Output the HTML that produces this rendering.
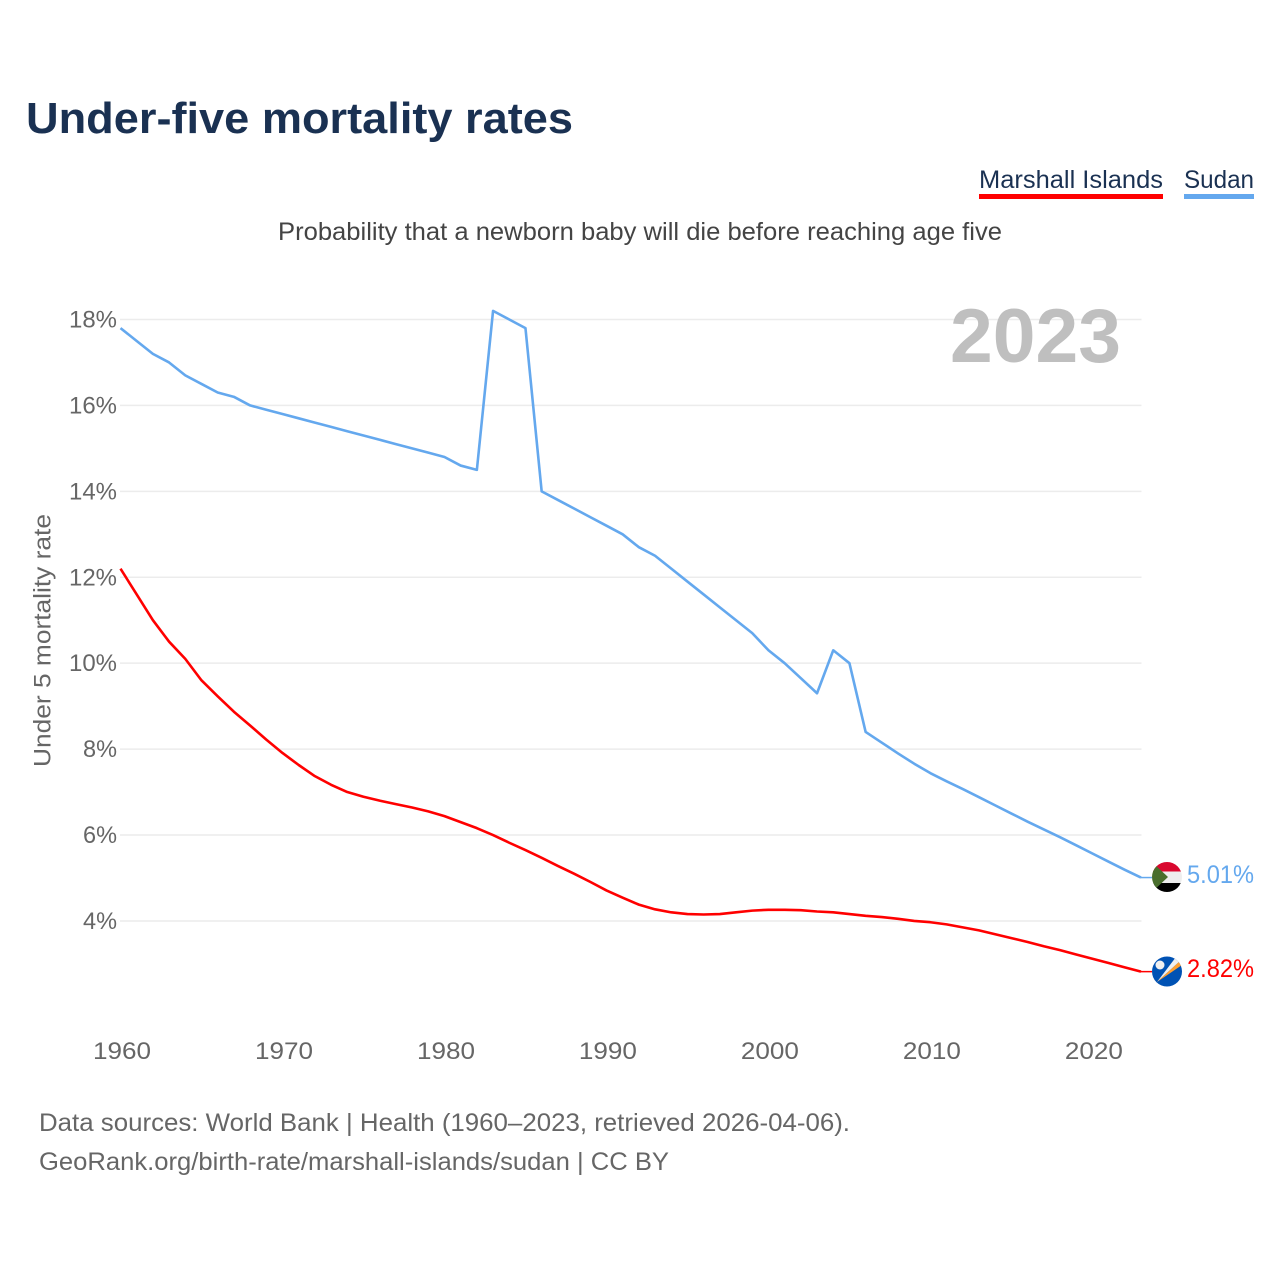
<!DOCTYPE html>
<html lang="en">
<head>
<meta charset="utf-8">
<title>Under-five mortality rates</title>
<style>
html,body{margin:0;padding:0;background:#fff;}
svg{display:block;font-family:"Liberation Sans",sans-serif;}
</style>
</head>
<body>
<svg id="chart" width="1280" height="1280" viewBox="0 0 1280 1280" xmlns="http://www.w3.org/2000/svg">
  <defs>
    <clipPath id="flag-clip-sudan"><circle cx="1167" cy="877" r="15"></circle></clipPath>
    <clipPath id="flag-clip-marshall"><circle cx="1167" cy="971.5" r="15"></circle></clipPath>
  </defs>
  <rect width="1280" height="1280" fill="#fff"></rect>
  <text x="26" y="133" font-size="44" font-weight="700" fill="#1a3152" textLength="547" lengthAdjust="spacingAndGlyphs">Under-five mortality rates</text>

  <g>
    <text x="979" y="188" font-size="25" fill="#1a3152" textLength="184" lengthAdjust="spacingAndGlyphs">Marshall Islands</text>
    <rect x="979" y="194" width="184" height="5" fill="#ff0000"></rect>
  </g>
  <g>
    <text x="1184" y="188" font-size="25" fill="#1a3152" textLength="70" lengthAdjust="spacingAndGlyphs">Sudan</text>
    <rect x="1184" y="194" width="70" height="5" fill="#64a8ee"></rect>
  </g>

  <text x="278" y="240" font-size="25" fill="#444" textLength="724" lengthAdjust="spacingAndGlyphs">Probability that a newborn baby will die before reaching age five</text>

  <g id="grid"></g>
  <g id="y-ticks"></g>
  <g id="x-ticks"></g>

  <text x="950" y="362" font-size="76" font-weight="700" fill="#bfbfbf" textLength="171" lengthAdjust="spacingAndGlyphs">2023</text>

  <text transform="translate(50.5,767) rotate(-90)" font-size="24" fill="#666" textLength="253" lengthAdjust="spacingAndGlyphs">Under 5 mortality rate</text>

  <g id="series"></g>

  <g clip-path="url(#flag-clip-sudan)">
    <rect x="1152" y="862" width="30" height="9.5" fill="#d9082f"></rect>
    <rect x="1152" y="871.5" width="30" height="11.5" fill="#eeeeee"></rect>
    <rect x="1152" y="883" width="30" height="9" fill="#000000"></rect>
    <polygon points="1152,862 1168,877 1152,892" fill="#496e2d"></polygon>
  </g>
  <g clip-path="url(#flag-clip-marshall)">
    <rect x="1152" y="956" width="30" height="31" fill="#0052b4"></rect>
    <polygon points="1157,982 1176,957 1180,961" fill="#f0f0f0"></polygon>
    <polygon points="1157,982 1180,961 1182,965" fill="#ffa030"></polygon>
    <circle cx="1160" cy="965" r="4.5" fill="#f0f0f0"></circle>
  </g>

  <text id="sudan-value" x="1187" y="883" font-size="25" fill="#64a8ee" textLength="67" lengthAdjust="spacingAndGlyphs"></text>
  <text id="marshall-value" x="1187" y="977" font-size="25" fill="#ff0000" textLength="67" lengthAdjust="spacingAndGlyphs"></text>

  <text x="39" y="1131" font-size="25" fill="#666" textLength="811" lengthAdjust="spacingAndGlyphs">Data sources: World Bank | Health (1960–2023, retrieved 2026-04-06).</text>
  <text x="39" y="1170" font-size="25" fill="#666" textLength="630" lengthAdjust="spacingAndGlyphs">GeoRank.org/birth-rate/marshall-islands/sudan | CC BY</text>
</svg>
<script>
const firstYear = 1960;
const yTickValues = [4, 6, 8, 10, 12, 14, 16, 18];
const xTickValues = [1960, 1970, 1980, 1990, 2000, 2010, 2020];
const sudanValues = [
  17.8, 17.5, 17.2, 17.0, 16.7, 16.5, 16.3, 16.2, 16.0, 15.9,
  15.8, 15.7, 15.6, 15.5, 15.4, 15.3, 15.2, 15.1, 15.0, 14.9,
  14.8, 14.6, 14.5, 18.2, 18.0, 17.8, 14.0, 13.8, 13.6, 13.4,
  13.2, 13.0, 12.7, 12.5, 12.2, 11.9, 11.6, 11.3, 11.0, 10.7,
  10.3, 10.0, 9.65, 9.3, 10.3, 10.0, 8.4, 8.15, 7.9, 7.66,
  7.44, 7.25, 7.07, 6.88, 6.69, 6.5, 6.31, 6.13, 5.95, 5.76,
  5.57, 5.38, 5.19, 5.01
];
const marshallValues = [
  12.2, 11.6, 11.0, 10.5, 10.1, 9.6, 9.23, 8.87, 8.55, 8.22,
  7.91, 7.63, 7.37, 7.17, 7.0, 6.89, 6.8, 6.72, 6.64, 6.55,
  6.44, 6.3, 6.16, 6.0, 5.82, 5.65, 5.47, 5.28, 5.1, 4.91,
  4.71, 4.54, 4.38, 4.27, 4.2, 4.16, 4.15, 4.16, 4.2, 4.24,
  4.26, 4.26, 4.25, 4.22, 4.2, 4.16, 4.12, 4.09, 4.05, 4.0,
  3.97, 3.92, 3.85, 3.78, 3.69, 3.6, 3.51, 3.41, 3.32, 3.22,
  3.12, 3.02, 2.92, 2.82
];

const NS = 'http://www.w3.org/2000/svg';
const xScale = function (year) { return 120.5 + (year - 1960) * (1141 - 120.5) / 63; };
const yScale = function (value) { return 319.5 + (18 - value) * 42.96; };

function make(tag, parent, attrs) {
  const el = document.createElementNS(NS, tag);
  Object.keys(attrs).forEach(function (k) { el.setAttribute(k, attrs[k]); });
  parent.appendChild(el);
  return el;
}

const grid = document.getElementById('grid');
const yTicks = document.getElementById('y-ticks');
yTickValues.forEach(function (v) {
  const line = make('line', grid, { x1: 120, x2: 1141.5, y1: yScale(v), y2: yScale(v), stroke: '#ececec', 'stroke-width': 1.5 });
  
  
  const label = make('text', yTicks, {
    x: 117, y: yScale(v) + 8, 'text-anchor': 'end', 'font-size': 24, fill: '#666',
    textLength: v >= 10 ? 48 : 34, lengthAdjust: 'spacingAndGlyphs'
  });
  
  
  label.textContent = v + '%';
});

const xTicks = document.getElementById('x-ticks');
xTickValues.forEach(function (year) {
  const label = make('text', xTicks, {
    x: xScale(year) + 1.5, y: 1059, 'text-anchor': 'middle', 'font-size': 24, fill: '#666',
    textLength: 58, lengthAdjust: 'spacingAndGlyphs'
  });
  
  
  label.textContent = String(year);
});

function pathFor(values) {
  return values.map(function (v, i) {
    return (i ? 'L' : 'M') + xScale(firstYear + i).toFixed(2) + ' ' + yScale(v).toFixed(2);
  }).join(' ');
}

const seriesGroup = document.getElementById('series');

const sudanLine = make('path', seriesGroup, { d: pathFor(sudanValues), fill: 'none', stroke: '#64a8ee', 'stroke-width': 2.6, 'stroke-linejoin': 'round' });



const marshallLine = make('path', seriesGroup, { d: pathFor(marshallValues), fill: 'none', stroke: '#ff0000', 'stroke-width': 2.6, 'stroke-linejoin': 'round' });



const sudanLast = sudanValues[sudanValues.length - 1];
const marshallLast = marshallValues[marshallValues.length - 1];

const sudanConnector = make('line', seriesGroup, { x1: 1141, x2: 1152, y1: yScale(sudanLast), y2: yScale(sudanLast), stroke: '#64a8ee', 'stroke-width': 1.5 });



const marshallConnector = make('line', seriesGroup, { x1: 1141, x2: 1152, y1: yScale(marshallLast), y2: yScale(marshallLast), stroke: '#ff0000', 'stroke-width': 1.5 });



document.getElementById('sudan-value').textContent = sudanLast.toFixed(2) + '%';
document.getElementById('marshall-value').textContent = marshallLast.toFixed(2) + '%';
</script>
</body>
</html>
